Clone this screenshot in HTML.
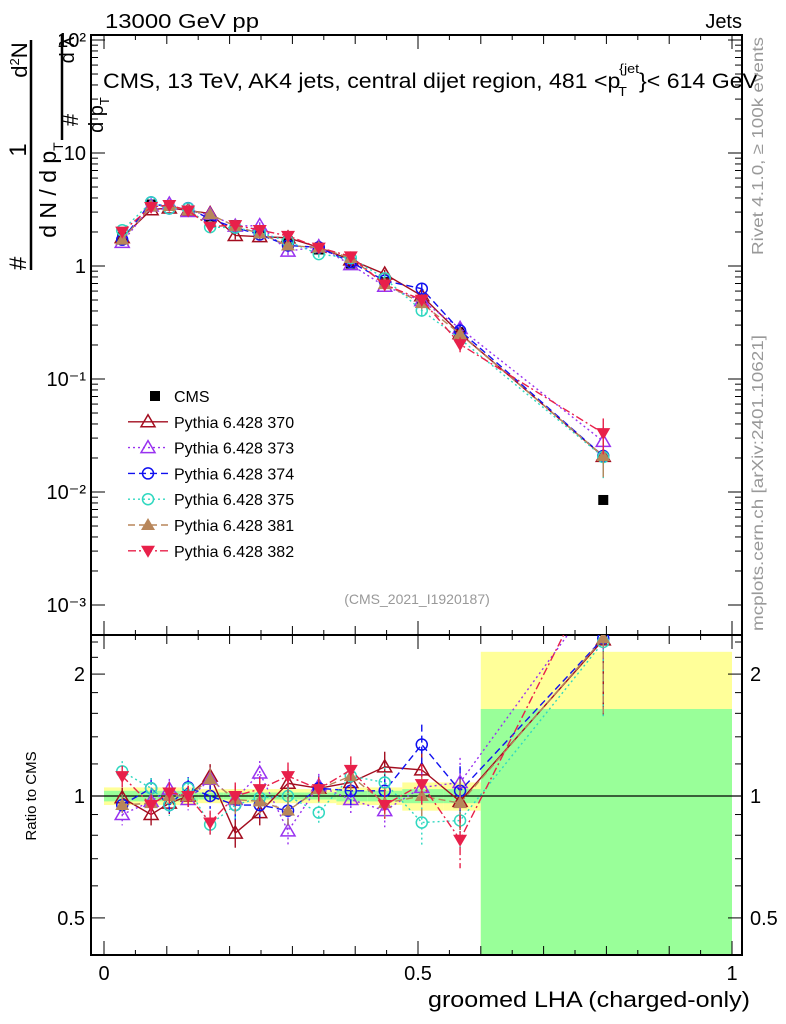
<!DOCTYPE html>
<html><head><meta charset="utf-8"><style>
html,body{margin:0;padding:0;background:#fff;width:786px;height:1024px;overflow:hidden;}
svg{display:block;font-family:"Liberation Sans",sans-serif;}
</style></head><body>
<svg id="chart" width="786" height="1024" viewBox="0 0 786 1024" xmlns="http://www.w3.org/2000/svg">
<defs>
<clipPath id="clipMain"><rect x="91" y="35" width="651" height="600"/></clipPath>
<clipPath id="clipRatio"><rect x="91" y="635" width="651" height="320"/></clipPath>
</defs>
<g id="ratioBands" clip-path="url(#clipRatio)"></g>
<g id="axes"></g>
<g id="mainSeries" clip-path="url(#clipMain)"></g>
<g id="ratioSeries" clip-path="url(#clipRatio)"></g>
<g id="legend"></g>
<text x="105" y="28" font-size="20" textLength="154" lengthAdjust="spacingAndGlyphs">13000 GeV pp</text>
<text x="742" y="28" font-size="20" text-anchor="end">Jets</text>
<text x="103" y="88" font-size="21" textLength="655" lengthAdjust="spacingAndGlyphs">CMS, 13 TeV, AK4 jets, central dijet region, 481 &lt;p<tspan font-size="13" dx="-2" dy="8">T</tspan><tspan font-size="13" dx="-7" dy="-23">{jet</tspan><tspan dy="15">}&lt; 614 GeV</tspan></text>
<text x="417" y="604" font-size="14" fill="#999" text-anchor="middle">(CMS_2021_I1920187)</text>
<text transform="translate(763,146) rotate(-90)" font-size="16" fill="#999" text-anchor="middle" textLength="218" lengthAdjust="spacingAndGlyphs">Rivet 4.1.0, ≥ 100k events</text>
<text transform="translate(763,483) rotate(-90)" font-size="16" fill="#999" text-anchor="middle" textLength="296" lengthAdjust="spacingAndGlyphs">mcplots.cern.ch [arXiv:2401.10621]</text>
<g>
<text transform="translate(26,270) rotate(-90)" font-size="24">#</text>
<text transform="translate(26,150) rotate(-90)" font-size="24" text-anchor="middle">1</text>
<line x1="31" y1="40" x2="31" y2="270" stroke="#000" stroke-width="2.5"/>
<text transform="translate(56,190) rotate(-90)" font-size="23" text-anchor="middle">d N / d p<tspan font-size="14" dy="7">T</tspan></text>
<text transform="translate(27,60) rotate(-90)" font-size="22" text-anchor="middle">d<tspan font-size="13" dy="-8">2</tspan><tspan dy="8">N</tspan></text>
<text transform="translate(78,120) rotate(-90)" font-size="22" text-anchor="middle">#</text>
<line x1="62" y1="35" x2="62" y2="140" stroke="#000" stroke-width="2.5"/>
<text transform="translate(103,115) rotate(-90)" font-size="20" text-anchor="middle">d p<tspan font-size="13" dy="6">T</tspan></text>
<text transform="translate(74,50) rotate(-90)" font-size="20" text-anchor="middle">d λ</text>
</g>
<text transform="translate(36,796) rotate(-90)" font-size="15" text-anchor="middle">Ratio to CMS</text>
<text x="750" y="1007" font-size="22" text-anchor="end" textLength="322" lengthAdjust="spacingAndGlyphs">groomed LHA (charged-only)</text>
</svg>
<script>
const xCenters=[0.029,0.075,0.104,0.134,0.169,0.209,0.248,0.293,0.342,0.393,0.447,0.506,0.567,0.795];
const binEdges=[0,0.055,0.09,0.12,0.15,0.19,0.23,0.27,0.32,0.37,0.42,0.475,0.54,0.6,1.0];
const cmsValues=[1.8,3.5,3.4,3.1,2.6,2.3,2.0,1.65,1.4,1.05,0.72,0.47,0.26,0.0085];
const bandYellow=[0.05,0.05,0.05,0.05,0.04,0.04,0.04,0.04,0.04,0.05,0.05,0.08,0.08,1.27];
const bandGreen=[0.03,0.03,0.03,0.03,0.02,0.02,0.02,0.02,0.02,0.03,0.03,0.04,0.04,0.64];
const ratio370=[0.99,0.90,0.96,1.0,1.12,0.81,0.91,1.075,1.045,1.08,1.18,1.16,0.97,2.43];
const ratio373=[0.90,0.97,1.04,0.98,1.10,0.98,1.14,0.82,1.06,0.98,0.92,1.05,1.08,3.3];
const ratio374=[0.95,1.045,0.95,1.05,1.0,0.95,0.95,0.92,1.045,1.03,1.03,1.34,1.03,2.45];
const ratio375=[1.15,1.045,0.95,1.045,0.85,0.95,0.99,1.0,0.91,1.12,1.08,0.86,0.87,2.4];
const ratio381=[0.95,0.96,1.0,1.0,1.10,0.98,0.97,0.92,1.04,1.12,0.96,1.0,0.96,2.45];
const ratio382=[1.12,0.95,1.02,1.0,0.86,1.0,1.04,1.12,1.04,1.16,0.95,1.07,0.78,3.9];
const ratioErr=[0.06,0.06,0.06,0.06,0.07,0.08,0.07,0.08,0.07,0.08,0.09,0.12,0.15,0.35];
const seriesNames=["Pythia 6.428 370","Pythia 6.428 373","Pythia 6.428 374","Pythia 6.428 375","Pythia 6.428 381","Pythia 6.428 382"];
const yTickLabels=["10⁻³","10⁻²","10⁻¹","1","10","10²"];
const yTickValues=[1e-3,1e-2,1e-1,1,10,100];
const rTickValues=[0.5,1,2];
const rTickLabels=["0.5","1","2"];
const xTickValues=[0,0.5,1];
const xTickLabels=["0","0.5","1"];

const NS="http://www.w3.org/2000/svg";
const X=v=>104+628*v;
const Y=v=>266-113*Math.log10(v);
const R=r=>796-405*Math.log10(Math.max(r,1e-3));
function mk(tag,attrs,parent){const e=document.createElementNS(NS,tag);for(const k in attrs)e.setAttribute(k,attrs[k]);parent.appendChild(e);return e;}

const styles=[
 {data:ratio370,color:"#a30d1f",dash:"",marker:"tri-open",name:"pythia-370"},
 {data:ratio373,color:"#9932f0",dash:"2,3",marker:"tri-open",name:"pythia-373"},
 {data:ratio374,color:"#1010f0",dash:"7,4",marker:"circ-open",name:"pythia-374"},
 {data:ratio375,color:"#30d8c0",dash:"2,3",marker:"circ-open",name:"pythia-375"},
 {data:ratio381,color:"#b8865a",dash:"7,4",marker:"tri-fill",name:"pythia-381"},
 {data:ratio382,color:"#e8204a",dash:"8,3,2,3",marker:"tri-down",name:"pythia-382"}
];

function marker(type,x,y,color,g){
 let e;
 if(type==="tri-open"){e=mk('polygon',{points:`${x},${y-7} ${x-7},${y+5} ${x+7},${y+5}`,fill:"none",stroke:color,"stroke-width":1.5},g);}
 else if(type==="tri-fill"){e=mk('polygon',{points:`${x},${y-7} ${x-7},${y+5} ${x+7},${y+5}`,fill:color},g);}
 else if(type==="tri-down"){e=mk('polygon',{points:`${x},${y+7} ${x-7},${y-5} ${x+7},${y-5}`,fill:color},g);}
 else if(type==="circ-open"){e=mk('circle',{cx:x,cy:y,r:5.5,fill:"none",stroke:color,"stroke-width":1.5},g);}
 else {e=mk('rect',{x:x-5,y:y-5,width:10,height:10,fill:"#000"},g);}
 return e;
}

const rb=document.getElementById('ratioBands');
for(let i=0;i<binEdges.length-1;i++){
 const x1=X(binEdges[i]),x2=X(binEdges[i+1]);
 const yb=mk('rect',{x:x1,y:R(1+bandYellow[i]),width:x2-x1,height:R(1-bandYellow[i])-R(1+bandYellow[i]),fill:"#ffff99"},rb);
 
 
 const gb=mk('rect',{x:x1,y:R(1+bandGreen[i]),width:x2-x1,height:R(1-bandGreen[i])-R(1+bandGreen[i]),fill:"#99ff99"},rb);
 
 
}

const ax=document.getElementById('axes');
mk('rect',{x:91,y:35,width:651,height:920,fill:"none",stroke:"#000","stroke-width":2},ax);
mk('line',{x1:91,y1:635,x2:742,y2:635,stroke:"#000","stroke-width":2},ax);
mk('line',{x1:91,y1:R(1),x2:742,y2:R(1),stroke:"#000","stroke-width":1.2},ax);
for(let d=-3;d<=2;d++){
 for(let m=1;m<10;m++){
  const v=m*Math.pow(10,d);const y=Y(v);
  if(y<35||y>635)continue;
  const L=m===1?14:7;
  mk('line',{x1:91,y1:y,x2:91+L,y2:y,stroke:"#000"},ax);
  mk('line',{x1:742,y1:y,x2:742-L,y2:y,stroke:"#000"},ax);
 }
}
yTickValues.forEach((v,i)=>{
 const t=mk('text',{x:86,y:Y(v)+7,"font-size":20,"text-anchor":"end"},ax);t.textContent=yTickLabels[i];
 
 
});
for(const v of [0.5,0.6,0.7,0.8,0.9,1,1.2,1.4,1.6,1.8,2,2.2,2.4]){
 const y=R(v);const L=(v===0.5||v===1||v===2)?14:7;
 mk('line',{x1:91,y1:y,x2:91+L,y2:y,stroke:"#000"},ax);
 mk('line',{x1:742,y1:y,x2:742-L,y2:y,stroke:"#000"},ax);
}
rTickValues.forEach((v,i)=>{
 const t=mk('text',{x:85,y:R(v)+7,"font-size":20,"text-anchor":"end"},ax);t.textContent=rTickLabels[i];
 
 
 const t2=mk('text',{x:750,y:R(v)+7,"font-size":20},ax);t2.textContent=rTickLabels[i];
 
 
});
for(let k=0;k<=20;k++){
 const v=k*0.05;const x=X(v);const L=(k%10===0)?14:(k%2===0?9:5);
 for(const [ya,dir] of [[35,1],[635,-1],[635,1],[955,-1]]){
  mk('line',{x1:x,y1:ya,x2:x,y2:ya+dir*L,stroke:"#000"},ax);
 }
}
xTickValues.forEach((v,i)=>{
 const t=mk('text',{x:X(v),y:980,"font-size":20,"text-anchor":"middle"},ax);t.textContent=xTickLabels[i];
 
 
});

const ms=document.getElementById('mainSeries');
const rs=document.getElementById('ratioSeries');
const gc=mk('g',{},ms);


xCenters.forEach((x,i)=>{
 const p=marker('square',X(x),Y(cmsValues[i]),'#000',gc);
 
 
});
styles.forEach(s=>{
 const gm=mk('g',{},ms);
 
 
 const gr=mk('g',{},rs);
 
 
 const ptsM=xCenters.map((x,i)=>`${X(x)},${Y(cmsValues[i]*s.data[i])}`).join(' ');
 const ptsR=xCenters.map((x,i)=>`${X(x)},${R(s.data[i])}`).join(' ');
 mk('polyline',{points:ptsM,fill:"none",stroke:s.color,"stroke-width":1.4,"stroke-dasharray":s.dash},gm);
 mk('polyline',{points:ptsR,fill:"none",stroke:s.color,"stroke-width":1.4,"stroke-dasharray":s.dash},gr);
 xCenters.forEach((x,i)=>{
  const v=s.data[i],e=ratioErr[i];
  mk('line',{x1:X(x),y1:R(v*(1+e)),x2:X(x),y2:R(v*(1-e)),stroke:s.color,"stroke-width":1.4,"stroke-dasharray":s.dash},gr);
  mk('line',{x1:X(x),y1:Y(cmsValues[i]*v*(1+e)),x2:X(x),y2:Y(cmsValues[i]*v*(1-e)),stroke:s.color,"stroke-width":1.4},gm);
  const m1=marker(s.marker,X(x),Y(cmsValues[i]*v),s.color,gm);
  
  
  const m2=marker(s.marker,X(x),R(v),s.color,gr);
  
  
 });
});

const lg=document.getElementById('legend');
const ly0=396,ld=25.8;
const cm=marker('square',155,ly0,'#000',lg);


const ct=mk('text',{x:174,y:ly0+6,"font-size":16},lg);ct.textContent="CMS";


styles.forEach((s,i)=>{
 const y=ly0+ld*(i+1);
 const g=mk('g',{},lg);
 
 
 mk('line',{x1:128,y1:y,x2:168,y2:y,stroke:s.color,"stroke-width":1.4,"stroke-dasharray":s.dash},g);
 marker(s.marker,148,y,s.color,g);
 const t=mk('text',{x:174,y:y+6,"font-size":16},g);t.textContent=seriesNames[i];
});
</script>
</body></html>
